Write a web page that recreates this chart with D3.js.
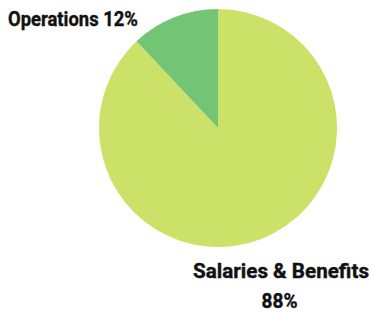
<!DOCTYPE html>
<html><head><meta charset="utf-8">
<script src="https://cdn.jsdelivr.net/npm/d3@7"></script>
<style>html,body{margin:0;padding:0;background:#fff;}</style>
</head><body>
<svg id="chart" width="372" height="312"></svg>
<script>
const categories = ["Salaries & Benefits", "Operations"];
const values = [88, 12];
const colors = ["#cbe168", "#74c476"];

const svg = d3.select("#chart");
const cx = 218, cy = 128, r = 119;
const pie = d3.pie().sort(null).value(d => d)(values);
const arc = d3.arc().innerRadius(0).outerRadius(r);
const g = svg.append("g").attr("transform", `translate(${cx},${cy})`);
g.selectAll("path").data(pie).join("path")
  .attr("d", arc).attr("fill", (d, i) => colors[i]);

const font = "Roboto, sans-serif";
svg.append("text").attr("x", 8).attr("y", 25.5)
  .attr("font-family", font).attr("font-weight", 700).attr("font-size", 21)
  .attr("fill", "#111").attr("stroke", "#111").attr("stroke-width", 0.4)
  .attr("textLength", 130).attr("lengthAdjust", "spacingAndGlyphs")
  .text(`${categories[1]} ${values[1]}%`);
const t = svg.append("text").attr("text-anchor", "middle")
  .attr("font-family", font).attr("font-weight", 700).attr("font-size", 21)
  .attr("fill", "#111").attr("stroke", "#111").attr("stroke-width", 0.4);
t.append("tspan").attr("x", 281).attr("y", 277.5)
  .attr("textLength", 176).attr("lengthAdjust", "spacingAndGlyphs")
  .text(categories[0]);
t.append("tspan").attr("x", 279.5).attr("y", 308)
  .attr("textLength", 36).attr("lengthAdjust", "spacingAndGlyphs")
  .text(`${values[0]}%`);
</script>
</body></html>
